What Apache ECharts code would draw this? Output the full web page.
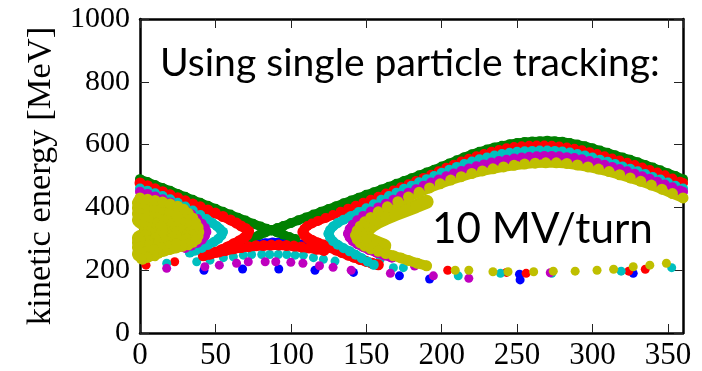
<!DOCTYPE html>
<html>
<head>
<meta charset="utf-8">
<script src="https://cdn.jsdelivr.net/npm/echarts@6/dist/echarts.min.js"></script>
<style>html,body{margin:0;padding:0;background:#fff}#c{width:702px;height:371px}</style>
</head>
<body>
<div id="c"></div>
<script>
// ---------- data (phase [deg], kinetic energy [MeV]) ----------
const blueArc = [[78,283],[83,286],[88,288],[93,288],[98,287],[103,285],[108,282]];
const blueDots = [[42.4,200],[68,204],[92,204],[116,200],[141.5,193],[172,182],[192,172],[251.6,187],[252,169],[327,190]];

const greenLeft = [[0,490],[5,481],[10,471],[15,462],[20,453],[25,443],[30,434],[35,424],[40,415],[45,405],[50,396],[55,386],[60,377],[65,367],[70,358],[75,348],[80,339],[84,332],[87,327]];
const greenRight = [[87,327],[91,334],[95,341],[100,350],[105,359],[110,368],[115,377],[120,386],[125,395],[130,404],[135,413],[140,422],[145,431],[150,440],[155,448],[160,457],[165,466],[170,475],[175,484],[180,493],[185,502],[190,511],[195,520],[200,530],[205,540],[210,550],[215,560],[220,569],[225,577],[230,584],[235,591],[240,596],[245,601],[250,605],[255,608],[260,610],[265,611],[270,612],[275,611],[280,609],[285,605],[290,600],[295,595],[300,588],[305,581],[310,574],[315,566],[320,559],[325,552],[330,544],[335,535],[340,527],[345,518],[350,509],[355,500],[360,490]];
const greenCrossLeft = [[87,327],[83,320],[79,312],[75,304],[71,296]];
const greenCrossRight = [[87,327],[91,320],[95,313],[99,306],[103,299]];

const redLeft = [[0,478],[5,469],[10,459],[15,450],[20,440],[25,431],[30,421],[35,411],[40,402],[45,392],[50,382],[55,371],[60,360],[64,350],[67,341],[70,333],[72,324]];
const redLeftLower = [[71,312],[69,303],[66,294],[62,284],[58,274],[54,265],[50,257],[46,251],[42,246]];
const redArc = [[47,252],[52,258],[57,263],[62,268],[67,272],[72,275],[77,278],[82,279],[87,280],[92,280],[97,279],[102,277],[107,274],[112,271],[117,267],[122,263]];
const redRightLower = [[109,312],[111,303],[114,295],[118,287],[122,280],[126,272],[130,264],[134,256],[138,248],[142,241],[146,234],[150,228],[154,222],[158,217]];
const redRight = [[108,322],[109,332],[111,341],[114,349],[118,357],[123,366],[128,376],[133,386],[138,396],[143,405],[148,415],[153,424],[158,434],[163,444],[168,454],[173,464],[178,474],[183,484],[188,494],[193,504],[198,515],[203,526],[208,536],[213,546],[218,555],[223,563],[228,570],[233,577],[238,583],[243,588],[248,592],[253,595],[258,596],[263,597],[268,597],[273,596],[278,594],[283,591],[288,587],[293,582],[298,576],[303,570],[308,563],[313,556],[318,549],[323,542],[328,535],[333,527],[338,519],[343,511],[348,502],[353,492],[358,482],[360,478]];
const redDots = [[4,216],[23,227],[204,200],[243,193],[256,190],[324,197],[335,203]];

const cyanLeft = [[0,460],[5,453],[10,445],[15,436],[20,426],[25,415],[30,403],[35,390],[40,376],[44,363],[48,350],[51,340],[53,331],[55,322]];
const cyanLeftLower = [[54,311],[52,300],[49,290],[45,280],[41,271],[37,263],[33,256]];
const cyanRight = [[125,316],[126,328],[128,339],[131,350],[135,361],[140,373],[145,385],[150,397],[155,410],[160,424],[165,436],[170,447],[175,459],[180,469],[185,480],[190,490],[195,500],[200,510],[205,520],[210,529],[215,538],[220,546],[225,553],[230,559],[235,565],[240,570],[245,574],[250,577],[255,579],[260,580],[265,581],[270,581],[275,580],[280,578],[285,575],[290,570],[295,565],[300,559],[305,552],[310,545],[315,538],[320,530],[325,523],[330,515],[335,506],[340,497],[345,489],[350,479],[355,469],[360,460]];
const cyanRightLower = [[126,304],[128,292],[131,281],[135,270],[139,260],[143,249],[147,238],[151,227],[155,217]];
const cyanDots = [[17.7,222],[37.6,227],[46.4,232],[55.3,240],[61.9,243],[68.5,248],[74,250],[80.7,250],[86,250],[91.7,250],[97.3,250],[102.8,248],[108.3,248],[115,240],[121.6,235],[129.3,229],[159,232],[168,208],[174.6,208],[211,182],[239,190],[273,190],[319,197],[352.5,208]];

const magentaLeft = [[0,450],[5,443],[10,435],[15,426],[20,416],[25,404],[30,391],[34,378],[38,363],[41,348],[43,335],[44,322]];
const magentaLeftLower = [[43,309],[41,297],[38,287],[34,278],[30,271]];
const magentaRight = [[138,316],[139,331],[141,345],[144,359],[148,373],[153,387],[158,400],[163,412],[168,424],[173,436],[178,447],[183,458],[188,469],[193,479],[198,489],[203,499],[208,508],[213,516],[218,524],[223,531],[228,537],[233,543],[238,548],[243,552],[248,556],[253,559],[258,561],[263,563],[268,564],[273,564],[278,563],[283,560],[288,557],[293,553],[298,548],[303,542],[308,536],[313,529],[318,522],[323,515],[328,507],[333,499],[338,491],[343,482],[348,473],[353,464],[358,454],[360,450]];
const magentaRightLower = [[139,304],[141,293],[144,283],[148,273],[152,264],[157,255],[162,247],[167,240]];
const magentaDots = [[17.7,206],[43,211],[52.6,216],[64,222],[71.8,227],[83,227],[90,227],[100,225],[108,222],[119,214],[128,209],[140,200],[166,190],[182,213],[194.5,182],[218,174],[272,192]];

const yellowLeftOuter = [[0,430],[5,426],[10,422],[15,417],[20,411],[25,404],[29,394],[32,381],[35,366],[37,351],[38.5,336],[39,322],[38.5,309],[37.5,298],[35,289],[32,281],[28,276],[24,271],[20,266],[16,261],[12,254],[9,247],[5,241],[1,236]];
const yellowLeftFill1 = [[0,414],[5,409],[10,404],[15,397],[20,389],[24,379],[28,367],[31,352],[33,337],[33.5,322],[33,309],[31,298],[28,289],[24,282],[19,275],[14,269],[9,263],[4,257],[0,252]];
const yellowLeftFill2 = [[0,398],[5,392],[10,385],[15,376],[19,366],[22,353],[24,338],[24.5,322],[24,309],[21,299],[17,291],[12,284],[6,278],[0,273]];
const yellowLeftFill3 = [[0,380],[5,373],[9,363],[12,351],[14,337],[14.5,322],[13,309],[10,300],[5,293],[0,288]];
const yellowLeftFill4 = [[0,360],[3,350],[5,337],[5.5,322],[4,310],[0,302]];
const yellowRight = [[143,311],[144,326],[146,340],[149,354],[153,368],[158,386],[164,402],[171,418],[178,433],[185,448],[192,462],[199,475],[206,487],[213,498],[220,508],[227,516],[234,523],[241,529],[248,534],[255,538],[262,541],[269,542],[276,542],[283,540],[290,535],[297,529],[304,522],[311,514],[318,504],[325,494],[332,483],[339,471],[346,458],[353,444],[360,430]];
const yellowRightInner = [[150,318],[151,331],[154,343],[158,355],[163,366],[169,378],[176,391],[183,404],[190,418]];
const yellowRightLower = [[143,311],[144,298],[146,287],[149,277],[153,268],[158,260],[163,253],[168,246],[173,239],[178,231],[184,222],[190,214]];
const yellowRightLowerInner = [[150,318],[150,306],[153,296],[157,287],[162,278]];
const yellowDots = [[2,232],[10,243],[15.5,258],[209,200],[218,200],[234,195],[244,195],[261,195],[274,197],[288.5,197],[303,200],[314,203],[327,211],[338,216],[349,222]];

const xRange = [0, 360];
const yRange = [0, 1000];
const yLabel = 'kinetic energy [MeV]';
const note1 = 'Using single particle tracking:';
const note2 = '10 MV/turn';

// ---------- chart ----------
function fitFont(text, family, targetW) {
  const ctx = document.createElement('canvas').getContext('2d');
  ctx.font = '100px ' + family;
  return 100 * targetW / ctx.measureText(text).width;
}
const annFamily = 'Lato';
const f1 = fitFont(note1, annFamily, 500);
const f2 = fitFont(note2, annFamily, 221);

const serif = '"Liberation Serif", "DejaVu Serif", serif';
const frameLine = { show: true, onZero: false, lineStyle: { color: '#000', width: 2.5 } };
const inTick = { show: true, inside: true, length: 9, lineStyle: { color: '#222', width: 1 } };

function dots(color, data) {
  return { type: 'scatter', data, symbol: 'circle', symbolSize: 9, clip: true,
    itemStyle: { color, opacity: 1 }, emphasis: { disabled: true }, silent: true };
}
function band(color, data, w) {
  w = w || 9;
  return { type: 'line', data, symbol: 'circle', symbolSize: Math.min(w + 1, 12), showSymbol: true, clip: true,
    lineStyle: { color, width: w, cap: 'round', join: 'round' }, itemStyle: { color, borderWidth: 0 },
    emphasis: { disabled: true }, silent: true };
}

const colors = { b: '#0000ff', g: '#008000', r: '#ff0000', c: '#00bfbf', m: '#bf00bf', y: '#bfbf00' };

const chart = echarts.init(document.getElementById('c'), null, { renderer: 'canvas' });
chart.setOption({
  animation: false,
  backgroundColor: '#fff',
  grid: { left: 140, right: 19, top: 19, bottom: 36 },
  xAxis: [
    { type: 'value', min: xRange[0], max: xRange[1], interval: 50, position: 'bottom',
      axisLine: frameLine, axisTick: inTick, splitLine: { show: false },
      axisLabel: { color: '#000', fontFamily: serif, fontSize: 31, margin: 7, showMaxLabel: false } },
    { type: 'value', min: xRange[0], max: xRange[1], interval: 50, position: 'top',
      axisLine: frameLine, axisTick: inTick, splitLine: { show: false }, axisLabel: { show: false } }
  ],
  yAxis: [
    { type: 'value', min: yRange[0], max: yRange[1], interval: 200, position: 'left',
      name: yLabel, nameLocation: 'middle', nameGap: 82,
      nameTextStyle: { color: '#000', fontFamily: serif, fontSize: 34.5 },
      axisLine: frameLine, axisTick: inTick, splitLine: { show: false },
      axisLabel: { color: '#000', fontFamily: serif, fontSize: 30, margin: 10, formatter: v => String(v) } },
    { type: 'value', min: yRange[0], max: yRange[1], interval: 200, position: 'right',
      axisLine: frameLine, axisTick: inTick, splitLine: { show: false }, axisLabel: { show: false } }
  ],
  series: [
    band(colors.b, blueArc), dots(colors.b, blueDots),
    band(colors.g, greenLeft), band(colors.g, greenRight), band(colors.g, greenCrossLeft), band(colors.g, greenCrossRight),
    band(colors.r, [].concat(redLeft, redLeftLower, redArc), 10), band(colors.r, [redRight[0]].concat(redRightLower), 10),
    band(colors.r, redRight), dots(colors.r, redDots),
    band(colors.c, [].concat(cyanLeft, cyanLeftLower)), band(colors.c, [cyanRight[0]].concat(cyanRightLower)),
    band(colors.c, cyanRight), dots(colors.c, cyanDots),
    band(colors.m, [].concat(magentaLeft, magentaLeftLower)), band(colors.m, [magentaRight[0]].concat(magentaRightLower)),
    band(colors.m, magentaRight), dots(colors.m, magentaDots),
    band(colors.y, yellowLeftFill4, 16), band(colors.y, yellowLeftFill3, 16), band(colors.y, yellowLeftFill2, 16),
    band(colors.y, yellowLeftFill1, 16), band(colors.y, yellowLeftOuter, 10),
    band(colors.y, yellowRightInner, 14), band(colors.y, yellowRightLowerInner, 14),
    band(colors.y, yellowRight, 10), band(colors.y, yellowRightLower, 10),
    dots(colors.y, yellowDots)
  ],
  graphic: [
    { type: 'text', x: 160, y: 63, silent: true,
      style: { text: note1, fill: '#000', font: f1.toFixed(1) + 'px ' + annFamily, verticalAlign: 'middle', align: 'left' } },
    { type: 'text', x: 432, y: 229, silent: true,
      style: { text: note2, fill: '#000', font: f2.toFixed(1) + 'px ' + annFamily, verticalAlign: 'middle', align: 'left' } }
  ]
});
</script>
</body>
</html>
